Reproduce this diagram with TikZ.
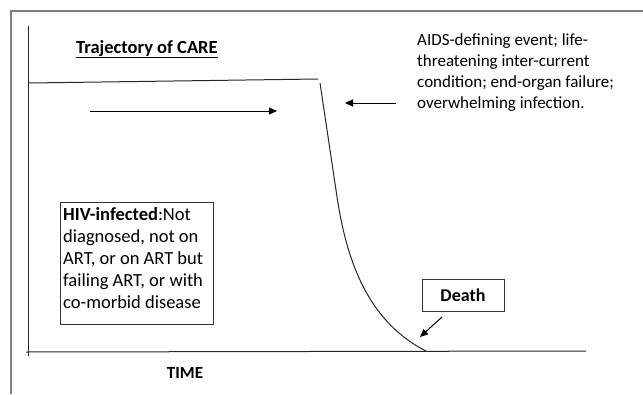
\documentclass[tikz,border=0pt]{standalone}
\usepackage{fontspec}
\setmainfont{Carlito}
\usetikzlibrary{arrows.meta}
\begin{document}
\begin{tikzpicture}[x=1pt,y=-1pt,
  axis/.style={line width=1pt,draw=black!85},
  frameline/.style={line width=1.2pt,draw=black!50},
  pointer/.style={line width=1pt,-{Triangle[length=8pt,width=7pt]}},
  boxed/.style={draw=black!80,line width=1pt,inner sep=0pt},
  plain/.style={inner sep=0pt}]
\useasboundingbox (0,0) rectangle (643,394);
% partial frame
\draw[frameline] (11,394) -- (11,11) -- (643,11);
% axes
\coordinate (ytop) at (28,26);
\coordinate (ybot) at (28,356);
\coordinate (xl) at (26,352);
\coordinate (xr) at (586,351);
\draw[axis] (ytop) -- (ybot);
\draw[axis] (xl) -- (xr);
% trajectory
\coordinate (h0) at (29,83);
\coordinate (h1) at (318,79);
\draw[axis] (h0) -- (h1);
\coordinate (c0) at (320,83);
\coordinate (c1) at (336,190);
\coordinate (c2) at (426,351);
\draw[axis] (c0) -- (c1) .. controls (345,255) and (365,320) .. (c2);
% title
\node[plain,anchor=base west,font=\fontsize{18.5}{22}\selectfont\bfseries] (title) at (76,53) {\underline{Trajectory of CARE}};
% right arrow
\coordinate (ra0) at (90,111);
\coordinate (ra1) at (277,111);
\draw[pointer] (ra0) -- (ra1);
% event text
\node[plain,anchor=north west,align=left,font=\fontsize{17}{21}\selectfont] (event) at (417,33)
  {AIDS-defining event; life-\\threatening inter-current\\condition; end-organ failure;\\overwhelming infection.};
\coordinate (la0) at (396,103);
\coordinate (la1) at (345,103);
\draw[pointer] (la0) -- (la1);
% HIV box
\node[boxed,anchor=north west,minimum width=153pt,minimum height=122pt] (hiv) at (60,202) {};
\node[plain,anchor=north west,align=left,font=\fontsize{18.5}{22}\selectfont] (hivtext) at (63,207)
  {\textbf{HIV-infected}:Not\\diagnosed, not on\\ART, or on ART but\\failing ART, or with\\co-morbid disease};
% death
\node[boxed,minimum width=82pt,minimum height=32pt,font=\fontsize{18}{22}\selectfont\bfseries] (death) at (463,295) {Death};
\coordinate (da0) at (442,317);
\coordinate (da1) at (420,337);
\draw[pointer] (da0) -- (da1);
% time
\node[plain,font=\fontsize{17}{20}\selectfont\bfseries] (time) at (185,373) {TIME};
\end{tikzpicture}
\end{document}
